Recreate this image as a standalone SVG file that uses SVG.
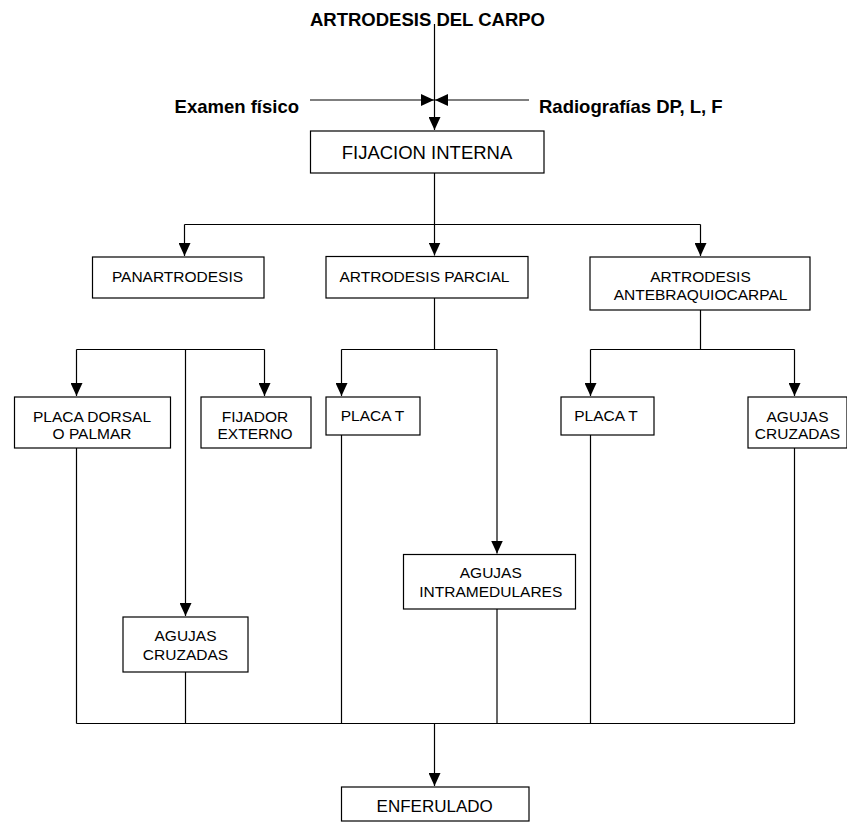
<svg xmlns="http://www.w3.org/2000/svg" width="847" height="822" viewBox="0 0 847 822">
<defs>
<marker id="ah" markerUnits="userSpaceOnUse" markerWidth="13" markerHeight="12" refX="13" refY="6" orient="auto">
<path d="M0,0 L13,6 L0,12 Z" fill="#000"/>
</marker>
<style>
.box{fill:#fff;stroke:#000;stroke-width:1.2}
.t{font-family:"Liberation Sans",Arial,sans-serif;font-size:15.5px;fill:#000;text-anchor:middle}
.b{font-family:"Liberation Sans",Arial,sans-serif;font-size:18.5px;font-weight:bold;fill:#000}
.ln{fill:none;stroke:#000;stroke-width:1.2}
.ar{fill:none;stroke:#000;stroke-width:1.2;marker-end:url(#ah)}
</style>
</defs>
<rect width="847" height="822" fill="#fff"/>

<g id="connectors">
<line class="ar" x1="434.5" y1="24" x2="434.5" y2="130"/>
<line class="ar" x1="310" y1="100" x2="434" y2="100"/>
<line class="ar" x1="529" y1="100" x2="435" y2="100"/>
<line class="ln" x1="434.5" y1="173" x2="434.5" y2="224.5"/>
<line class="ln" x1="184.5" y1="224.5" x2="700.5" y2="224.5"/>
<line class="ar" x1="184.5" y1="224.5" x2="184.5" y2="256"/>
<line class="ar" x1="434.5" y1="224.5" x2="434.5" y2="255.5"/>
<line class="ar" x1="700.5" y1="224.5" x2="700.5" y2="256"/>

<line class="ln" x1="76.5" y1="349.5" x2="264.5" y2="349.5"/>
<line class="ar" x1="76.5" y1="349.5" x2="76.5" y2="396"/>
<line class="ar" x1="264.5" y1="349.5" x2="264.5" y2="396"/>
<line class="ar" x1="185.5" y1="349.5" x2="185.5" y2="616"/>

<line class="ln" x1="434.5" y1="298" x2="434.5" y2="349.5"/>
<line class="ln" x1="341.5" y1="349.5" x2="497" y2="349.5"/>
<line class="ar" x1="341.5" y1="349.5" x2="341.5" y2="396"/>
<line class="ar" x1="497" y1="349.5" x2="497" y2="553.5"/>

<line class="ln" x1="700.5" y1="310" x2="700.5" y2="349.5"/>
<line class="ln" x1="590.5" y1="349.5" x2="794.5" y2="349.5"/>
<line class="ar" x1="590.5" y1="349.5" x2="590.5" y2="396"/>
<line class="ar" x1="794.5" y1="349.5" x2="794.5" y2="396"/>

<line class="ln" x1="76.5" y1="448" x2="76.5" y2="723.5"/>
<line class="ln" x1="185.5" y1="672" x2="185.5" y2="723.5"/>
<line class="ln" x1="341.5" y1="435" x2="341.5" y2="723.5"/>
<line class="ln" x1="497" y1="609" x2="497" y2="723.5"/>
<line class="ln" x1="590.5" y1="435" x2="590.5" y2="723.5"/>
<line class="ln" x1="794.5" y1="448" x2="794.5" y2="723.5"/>
<line class="ln" x1="76.5" y1="723.5" x2="794.5" y2="723.5"/>
<line class="ar" x1="434.5" y1="723.5" x2="434.5" y2="786"/>
</g>

<g id="title"><text class="b" x="427.5" y="25.7" text-anchor="middle">ARTRODESIS DEL CARPO</text></g>
<g id="examen"><text class="b" x="299" y="113" text-anchor="end">Examen físico</text></g>
<g id="radiografias"><text class="b" x="539" y="113">Radiografías DP, L, F</text></g>

<g id="fijacion-interna">
<rect class="box" x="310.5" y="131" width="233.5" height="42"/>
<text class="t" x="427" y="159.3" style="font-size:18.5px">FIJACION INTERNA</text>
</g>

<g id="panartrodesis">
<rect class="box" x="92.5" y="257" width="171.5" height="41"/>
<text class="t" x="177.5" y="281.7">PANARTRODESIS</text>
</g>

<g id="artrodesis-parcial">
<rect class="box" x="326" y="256.5" width="202" height="41.5"/>
<text class="t" x="424.5" y="281.7">ARTRODESIS PARCIAL</text>
</g>

<g id="artrodesis-antebraquiocarpal">
<rect class="box" x="590" y="257" width="220" height="53"/>
<text class="t" x="700.5" y="281.7">ARTRODESIS</text>
<text class="t" x="700.5" y="300">ANTEBRAQUIOCARPAL</text>
</g>

<g id="placa-dorsal">
<rect class="box" x="14.5" y="397" width="156" height="51"/>
<text class="t" x="92" y="421.7">PLACA DORSAL</text>
<text class="t" x="92" y="439.3">O PALMAR</text>
</g>

<g id="fijador-externo">
<rect class="box" x="201" y="397" width="110" height="51"/>
<text class="t" x="255" y="421.7">FIJADOR</text>
<text class="t" x="255" y="439.3">EXTERNO</text>
</g>

<g id="placa-t-parcial">
<rect class="box" x="326" y="397" width="94" height="38"/>
<text class="t" x="372.5" y="421">PLACA T</text>
</g>

<g id="placa-t-antebraquio">
<rect class="box" x="561" y="397" width="93" height="38"/>
<text class="t" x="606" y="421">PLACA T</text>
</g>

<g id="agujas-cruzadas-antebraquio">
<rect class="box" x="748" y="397" width="99" height="51"/>
<text class="t" x="797.5" y="421.7">AGUJAS</text>
<text class="t" x="797.5" y="439.3">CRUZADAS</text>
</g>

<g id="agujas-intramedulares">
<rect class="box" x="403.5" y="554.5" width="172" height="54.5"/>
<text class="t" x="490.8" y="578.3">AGUJAS</text>
<text class="t" x="490.8" y="596.7">INTRAMEDULARES</text>
</g>

<g id="agujas-cruzadas-pan">
<rect class="box" x="123" y="617" width="125" height="55"/>
<text class="t" x="185.5" y="641">AGUJAS</text>
<text class="t" x="185.5" y="660">CRUZADAS</text>
</g>

<g id="enferulado">
<rect class="box" x="341.5" y="787" width="187.5" height="34"/>
<text class="t" x="434.7" y="811.7" style="font-size:17px">ENFERULADO</text>
</g>
</svg>
